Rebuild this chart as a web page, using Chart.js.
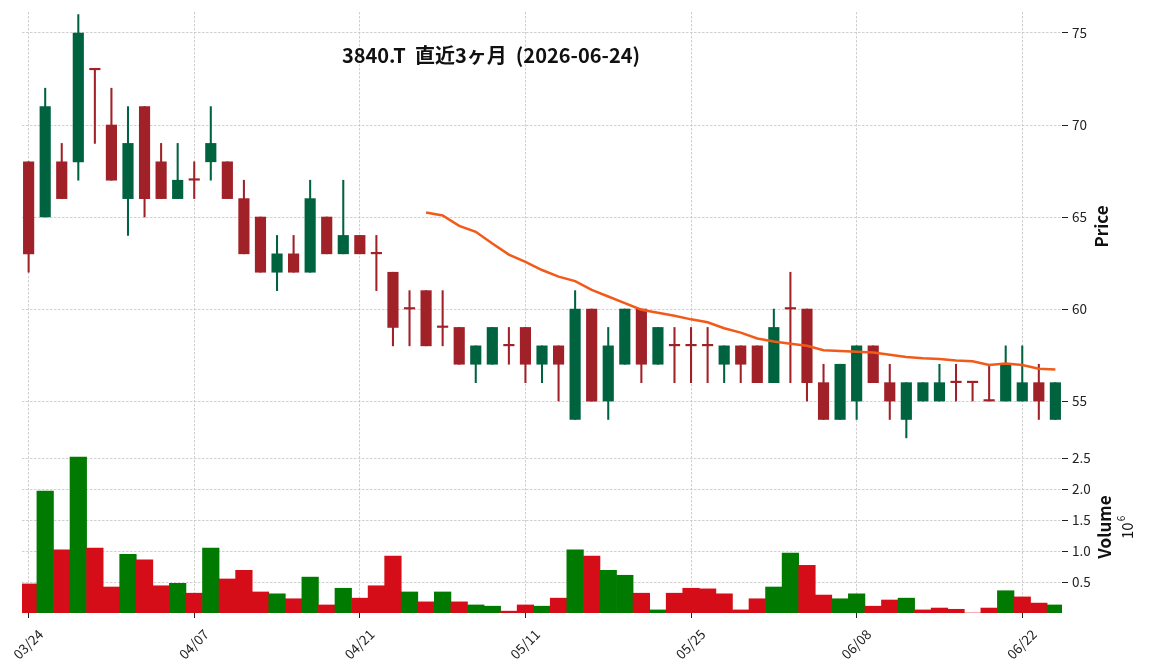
<!DOCTYPE html>
<html>
<head>
<meta charset="utf-8">
<script src="https://cdn.jsdelivr.net/npm/chart.js@4.4.1/dist/chart.umd.min.js"></script>
<style>
  html, body { margin: 0; padding: 0; background: #fff; }
  #wrap { width: 1149px; height: 670px; }
</style>
</head>
<body>
<div id="wrap"><canvas id="chart" width="1149" height="670"></canvas></div>
<script>
const titleText = "3840.T  直近3ヶ月  (2026-06-24)";

const dates = [
  "03/24", "03/25", "03/26", "03/27", "03/30", "03/31",
  "04/01", "04/02", "04/03", "04/06", "04/07", "04/08", "04/09", "04/10", "04/13", "04/14", "04/15",
  "04/16", "04/17", "04/20", "04/21", "04/22", "04/23", "04/24", "04/27", "04/28", "04/30",
  "05/01", "05/07", "05/08", "05/11", "05/12", "05/13", "05/14", "05/15", "05/18", "05/19", "05/20",
  "05/21", "05/22", "05/25", "05/26", "05/27", "05/28", "05/29",
  "06/01", "06/02", "06/03", "06/04", "06/05", "06/08", "06/09", "06/10", "06/11", "06/12",
  "06/15", "06/16", "06/17", "06/18", "06/19", "06/22", "06/23", "06/24"
];

const opens  = [68, 65, 68, 68, 73, 70, 66, 71, 68, 66, 67, 68, 68, 66, 65, 62, 63, 62, 65, 63, 64,
                63, 62, 60, 61, 59, 59, 57, 57, 58, 59, 57, 58, 54, 60, 55, 57, 60, 57, 58, 58, 58,
                57, 58, 58, 56, 60, 60, 56, 54, 55, 58, 56, 54, 55, 55, 56, 56, 55, 55, 55, 56, 54];
const highs  = [68, 72, 69, 76, 73, 72, 71, 71, 69, 69, 68, 71, 68, 67, 65, 64, 64, 67, 65, 67, 64,
                64, 62, 61, 61, 61, 59, 58, 59, 59, 59, 58, 58, 61, 60, 59, 60, 60, 59, 59, 59, 59,
                58, 58, 58, 60, 62, 60, 57, 57, 58, 58, 57, 56, 56, 57, 57, 56, 57, 58, 58, 57, 56];
const lows   = [62, 65, 66, 67, 69, 67, 64, 65, 66, 66, 66, 67, 66, 63, 62, 61, 62, 62, 63, 63, 63,
                61, 58, 58, 58, 58, 57, 56, 57, 57, 56, 56, 55, 54, 55, 54, 57, 56, 57, 56, 56, 56,
                56, 56, 56, 56, 56, 55, 54, 54, 54, 56, 54, 53, 55, 55, 55, 55, 55, 55, 55, 54, 54];
const closes = [63, 71, 66, 75, 73, 67, 69, 66, 66, 67, 67, 69, 66, 63, 62, 63, 62, 66, 63, 64, 63,
                63, 59, 60, 58, 59, 57, 58, 59, 58, 57, 58, 57, 60, 55, 58, 60, 57, 59, 58, 58, 58,
                58, 57, 56, 59, 60, 56, 54, 57, 58, 56, 55, 56, 56, 56, 56, 56, 55, 57, 56, 55, 56];

// volume in millions of shares
const volumes = [0.47, 1.97, 1.02, 2.52, 1.05, 0.42, 0.95, 0.86, 0.44, 0.48,
                 0.32, 1.05, 0.55, 0.69, 0.34, 0.31, 0.23, 0.58, 0.13, 0.40,
                 0.24, 0.44, 0.92, 0.34, 0.18, 0.34, 0.18, 0.13, 0.11, 0.03,
                 0.13, 0.11, 0.24, 1.02, 0.92, 0.69, 0.61, 0.32, 0.05, 0.32,
                 0.40, 0.39, 0.31, 0.05, 0.23, 0.42, 0.97, 0.77, 0.29, 0.23,
                 0.31, 0.11, 0.21, 0.24, 0.05, 0.08, 0.06, 0.00, 0.08, 0.36,
                 0.26, 0.16, 0.13];

// 25-day moving average line
const ma25 = [null, null, null, null, null, null, null, null, null, null, null, null,
              null, null, null, null, null, null, null, null, null, null, null, null,
              65.24, 65.08, 64.52, 64.20, 63.56, 62.96, 62.56, 62.12, 61.76, 61.52,
              61.04, 60.68, 60.32, 59.96, 59.80, 59.64, 59.44, 59.28, 58.96, 58.72,
              58.40, 58.24, 58.12, 58.00, 57.76, 57.72, 57.68, 57.64, 57.52, 57.40,
              57.32, 57.28, 57.20, 57.16, 56.96, 57.04, 56.96, 56.76, 56.72];

const xTicks = [0, 10, 20, 30, 40, 50, 60];
const priceTicks = [55, 60, 65, 70, 75];
const volumeTicks = [0.5, 1.0, 1.5, 2.0, 2.5];

const upColor = "#006340", downColor = "#a02128";
const volUp = "#007a00", volDown = "#d50d18";
const maColor = "#f25a1a";
const gridColor = "#c4c4c4";
const fontFamily = "'Noto Sans CJK JP', 'Noto Sans', sans-serif";

const candleColors = opens.map((o, i) => closes[i] > o ? upColor : downColor);
// volume colour follows the close against the previous close
const volumeColors = closes.map((c, i) =>
  i === 0 ? (c > opens[0] ? volUp : volDown) : (c > closes[i - 1] ? volUp : volDown));

const textPlugin = {
  id: "panelText",
  afterDraw(chart) {
    const ctx = chart.ctx;
    const py = chart.scales.y, vy = chart.scales.yv;
    ctx.save();
    ctx.fillStyle = "#111";
    ctx.textAlign = "center";
    ctx.textBaseline = "middle";
    ctx.font = "bold 20px " + fontFamily;
    ctx.fillText(titleText, 491, 55);

    ctx.font = "bold 17px " + fontFamily;
    ctx.save();
    ctx.translate(1102, (py.top + py.bottom) / 2);
    ctx.rotate(-Math.PI / 2);
    ctx.fillText("Price", 0, 0);
    ctx.restore();

    ctx.save();
    ctx.translate(1105, (vy.top + vy.bottom) / 2);
    ctx.rotate(-Math.PI / 2);
    ctx.fillText("Volume", 0, 0);
    ctx.restore();

    ctx.save();
    ctx.translate(1133, 539);
    ctx.rotate(-Math.PI / 2);
    ctx.textAlign = "left";
    ctx.textBaseline = "alphabetic";
    ctx.font = "15px " + fontFamily;
    ctx.fillText("10", 0, 0);
    const w = ctx.measureText("10").width;
    ctx.font = "10px " + fontFamily;
    ctx.fillText("6", w + 1, -8);
    ctx.restore();
    ctx.restore();
  }
};

const ctx = document.getElementById("chart").getContext("2d");

new Chart(ctx, {
  type: "bar",
  data: {
    datasets: [
      {
        label: "wick",
        data: dates.map((d, i) => ({ x: i, y: [lows[i], highs[i]] })),
        backgroundColor: candleColors,
        barThickness: 1.4,
        grouped: false,
        yAxisID: "y",
        order: 3
      },
      {
        label: "body",
        data: dates.map((d, i) => ({ x: i, y: [opens[i], closes[i]] })),
        backgroundColor: candleColors,
        barThickness: 10.5,
        minBarLength: 1.5,
        grouped: false,
        yAxisID: "y",
        order: 2
      },
      {
        type: "line",
        label: "MA25",
        data: dates.map((d, i) => ({ x: i, y: ma25[i] })),
        borderColor: maColor,
        borderWidth: 2.5,
        pointRadius: 0,
        tension: 0,
        yAxisID: "y",
        order: 1
      },
      {
        label: "Volume",
        data: dates.map((d, i) => ({ x: i, y: volumes[i] })),
        backgroundColor: volumeColors,
        barPercentage: 1,
        categoryPercentage: 1,
        grouped: false,
        yAxisID: "yv",
        order: 4
      }
    ]
  },
  options: {
    responsive: false,
    animation: false,
    devicePixelRatio: 1,
    layout: { padding: { top: 12, left: 22, right: 0, bottom: 0 } },
    plugins: { legend: { display: false }, tooltip: { enabled: false } },
    scales: {
      x: {
        type: "linear",
        position: "bottom",
        offset: false,
        min: -0.4,
        max: 62.4,
        afterBuildTicks: (s) => { s.ticks = xTicks.map(v => ({ value: v })); },
        afterFit: (s) => { s.height = 57; s.paddingLeft = 0; s.paddingRight = 0; },
        ticks: {
          callback: (v) => dates[v],
          autoSkip: false,
          minRotation: 45,
          maxRotation: 45,
          labelOffset: 12,
          padding: 8,
          color: "#222",
          font: { family: fontFamily, size: 13.5 }
        },
        grid: { offset: false, color: gridColor, lineWidth: 0.8, tickColor: "#222", tickLength: 5, tickWidth: 1 },
        border: { display: false, dash: [2.5, 1.5] }
      },
      y: {
        position: "right",
        stack: "panels",
        stackWeight: 429,
        min: 52.83,
        max: 76.14,
        afterBuildTicks: (s) => { s.ticks = priceTicks.map(v => ({ value: v })); },
        afterFit: (s) => { s.width = 87; s.paddingTop = 0; s.paddingBottom = 0; },
        ticks: { color: "#222", padding: 4, font: { family: fontFamily, size: 13.5 } },
        grid: { color: gridColor, lineWidth: 0.8, tickColor: "#222", tickLength: 6, tickWidth: 1 },
        border: { display: false, dash: [2.5, 1.5] }
      },
      yv: {
        position: "right",
        stack: "panels",
        stackWeight: 172,
        min: 0,
        max: 2.78,
        afterBuildTicks: (s) => { s.ticks = volumeTicks.map(v => ({ value: v })); },
        afterFit: (s) => { s.width = 87; s.paddingTop = 0; s.paddingBottom = 0; },
        ticks: { color: "#222", padding: 4, callback: (v) => v.toFixed(1), font: { family: fontFamily, size: 13.5 } },
        grid: { color: gridColor, lineWidth: 0.8, tickColor: "#222", tickLength: 6, tickWidth: 1 },
        border: { display: false, dash: [2.5, 1.5] }
      }
    }
  },
  plugins: [textPlugin]
});
</script>
</body>
</html>
